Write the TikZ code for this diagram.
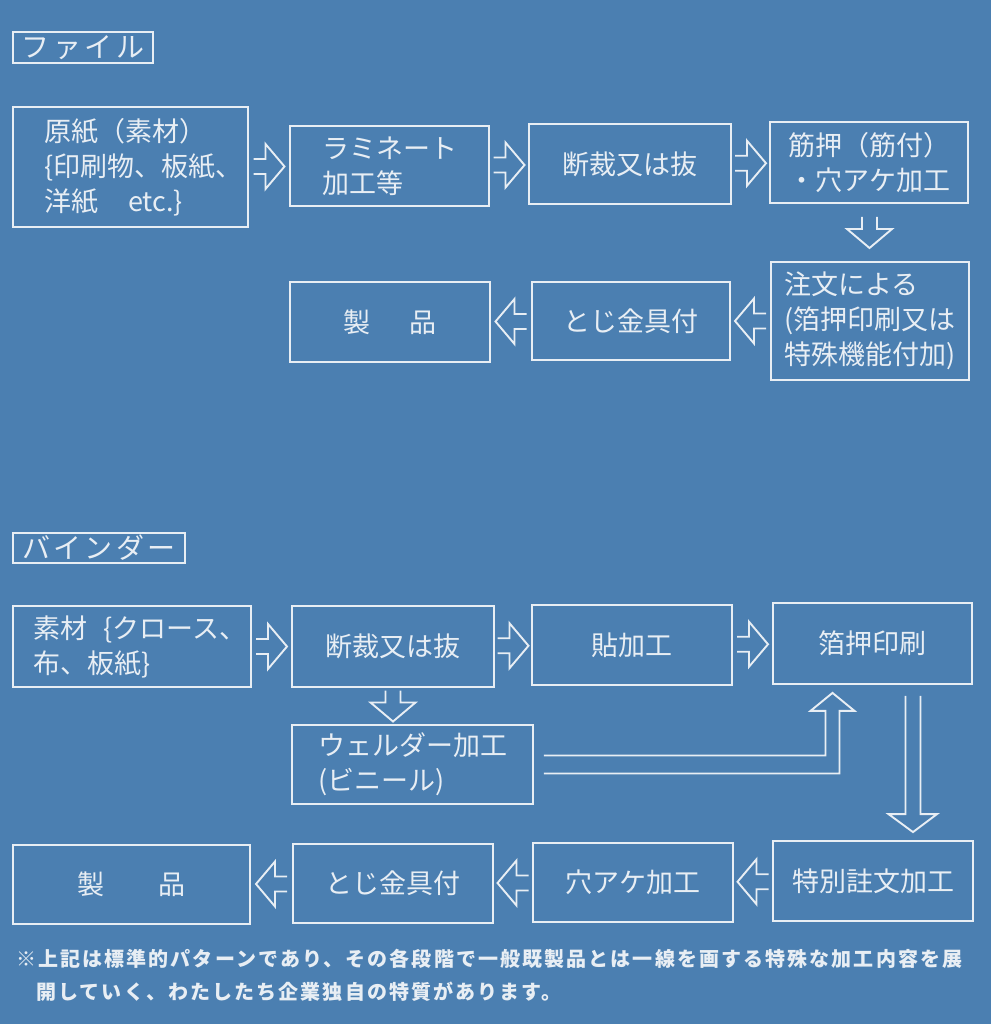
\documentclass[tikz,border=0pt]{standalone}
\usepackage{fontspec}
\setmainfont{Noto Sans CJK JP}
\newfontfamily\boxjp{Noto Sans CJK JP}
\newfontfamily\titlejp[LetterSpace=12]{Noto Sans CJK JP}
\newfontfamily\notejp[LetterSpace=10.5]{Noto Sans CJK JP}
\usetikzlibrary{calc}
\definecolor{bgblue}{RGB}{75,127,177}
\definecolor{fg}{RGB}{232,238,244}
\tikzset{
 box/.style={draw=fg, line width=1.8pt, text=fg, inner sep=0pt, align=left, font=\boxjp\fontsize{27}{35}\selectfont},
 titlebox/.style={draw=fg, line width=1.8pt, text=fg, inner sep=0pt, font=\titlejp\fontsize{28}{30}\selectfont},
 dbl/.style={draw=fg, line width=1.9pt, line join=miter},
 harrow/.pic={\draw[dbl] (-15.5,-7.5) -- (-3.5,-7.5) -- (-3.5,-22.5) -- (15.5,0) -- (-3.5,22.5) -- (-3.5,7.5) -- (-15.5,7.5);},
 note/.style={text=fg, inner sep=0pt, align=left, font=\notejp\bfseries\fontsize{20}{33}\selectfont}
}
\begin{document}
\begin{tikzpicture}[x=1pt,y=-1pt]
\fill[bgblue] (0,0) rectangle (991,1024);
\useasboundingbox (0,0) rectangle (991,1024);

% ---------- File section ----------
\node[titlebox, minimum width=140pt, minimum height=31pt] (f0) at (83,47.5) {ファイル};
\node[box, minimum width=235pt, minimum height=120pt] (f1) at (130.5,167) {\hspace*{26pt}原紙（素材）\\\hspace*{26pt}\{印刷物、板紙、\\\hspace*{26pt}洋紙\hspace{1.1em}etc.\}};
\node[box, minimum width=199pt, minimum height=80pt] (f2) at (389.5,166) {ラミネート\\加工等};
\node[box, minimum width=202pt, minimum height=80pt] (f3) at (630,164) {断裁又は抜};
\node[box, minimum width=198pt, minimum height=81pt] (f4) at (869,162.5) {筋押（筋付）\\・穴アケ加工};
\node[box, minimum width=198pt, minimum height=118pt] (f5) at (870,321) {注文による\\(箔押印刷又は\\特殊機能付加)};
\node[box, minimum width=198pt, minimum height=78pt] (f6) at (631,321) {とじ金具付};
\node[box, minimum width=200pt, minimum height=80pt] (f7) at (390,322) {製\hspace{40pt}品};

\pic at ($(f1.east)!0.5!(f2.west)$) {harrow};
\pic at ($(f2.east)!0.5!(f3.west)$) {harrow};
\pic at ($(f3.east)!0.5!(f4.west)$) {harrow};
\pic[rotate=-90] at ($(f4.south)!0.5!(f5.north)$) {harrow};
\pic[rotate=180] at ($(f5.west)!0.5!(f6.east)$) {harrow};
\pic[rotate=180] at ($(f6.west)!0.5!(f7.east)$) {harrow};

% ---------- Binder section ----------
\node[titlebox, minimum width=172pt, minimum height=30pt] (b0) at (99,548) {バインダー};
\node[box, minimum width=238pt, minimum height=81pt] (b1) at (132,646.5) {\hspace*{16pt}素材\hspace{0.6em}\{クロース、\\\hspace*{16pt}布、板紙\}};
\node[box, minimum width=202pt, minimum height=81pt] (b2) at (393,646.5) {断裁又は抜};
\node[box, minimum width=200pt, minimum height=80pt] (b3) at (632,645) {貼加工};
\node[box, minimum width=199pt, minimum height=81pt] (b4) at (872.5,643.5) {箔押印刷};
\node[box, minimum width=241pt, minimum height=79pt] (b5) at (412.5,764.5) {ウェルダー加工\\(ビニール)};
\node[box, minimum width=200pt, minimum height=80pt] (b6) at (873,881) {特別註文加工};
\node[box, minimum width=200pt, minimum height=79pt] (b7) at (633,882.5) {穴アケ加工};
\node[box, minimum width=200pt, minimum height=79pt] (b8) at (393,883.5) {とじ金具付};
\node[box, minimum width=237pt, minimum height=79pt] (b9) at (131.5,884.5) {製\hspace{54pt}品};

\pic at ($(b1.east)!0.5!(b2.west)$) {harrow};
\pic at ($(b2.east)!0.5!(b3.west)$) {harrow};
\pic at ($(b3.east)!0.5!(b4.west)$) {harrow};
\pic[rotate=-90] at ($(b2.south)!0.5!(b2.south |- b5.north)$) {harrow};
\pic[rotate=180] at ($(b6.west)!0.5!(b7.east)$) {harrow};
\pic[rotate=180] at ($(b7.west)!0.5!(b8.east)$) {harrow};
\pic[rotate=180] at ($(b8.west)!0.5!(b9.east)$) {harrow};

% double-line connector: welder -> foil printing
\coordinate (c1) at ($(b5.east)+(10,0)$);
\coordinate (t1) at ($(b4.south)+(-40,8)$);
\draw[dbl] ($(c1)+(0,-9)$) -| ($(t1)+(-7,18)$) -- ++(-15,0) -- (t1) -- ($(t1)+(22,18)$) -- ++(-15,0) |- ($(c1)+(0,9)$);

% double-line connector: foil printing -> special order
\coordinate (s2) at ($(b4.south)+(40.5,11)$);
\coordinate (t2) at ($(b6.north)+(40,-8)$);
\draw[dbl] ($(s2)+(-7.5,0)$) -- ($(t2)+(-7.5,-18)$) -- ++(-17,0) -- (t2) -- ($(t2)+(24,-18)$) -- ++(-16.5,0) -- ($(s2)+(7.5,0)$);

% footnote
\node[note, anchor=west] (note) at (16,975) {※上記は標準的パターンであり、その各段階で一般既製品とは一線を画する特殊な加工内容を展\\\hspace*{20pt}開していく、わたしたち企業独自の特質があります。};
\end{tikzpicture}
\end{document}
